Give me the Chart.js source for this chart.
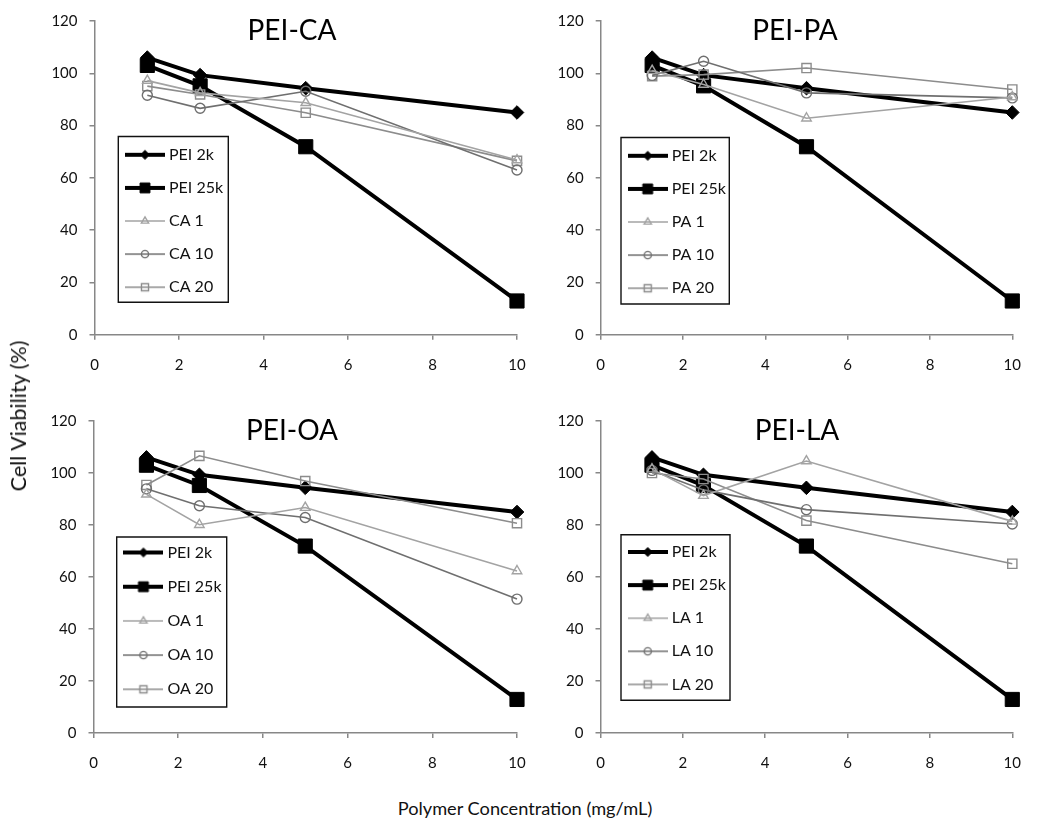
<!DOCTYPE html>
<html><head><meta charset="utf-8">
<script src="https://cdn.jsdelivr.net/npm/chart.js@4/dist/chart.umd.min.js"></script>
<style>
html,body{margin:0;padding:0;background:#fff;}
body{width:1037px;height:832px;position:relative;overflow:hidden;font-family:Lato,sans-serif;}
canvas{position:absolute;}
.lab{position:absolute;font-family:Lato,sans-serif;color:#111;white-space:nowrap;transform-origin:center center;}
</style></head><body>
<canvas id="c0" width="584" height="390" style="left:0px;top:0px"></canvas>
<canvas id="c1" width="527" height="390" style="left:510px;top:0px"></canvas>
<canvas id="c2" width="584" height="390" style="left:0px;top:400px"></canvas>
<canvas id="c3" width="527" height="390" style="left:510px;top:400px"></canvas>
<div class="lab" id="ylab" style="left:18px;top:416px;font-size:21.5px;transform:translate(-50%,-50%) rotate(-90deg);">Cell Viability (%)</div>
<div class="lab" id="xlab" style="left:525px;top:808px;font-size:18.2px;transform:translate(-50%,-50%);">Polymer Concentration (mg/mL)</div>
<script>
// ---------- data ----------
const concentrations = [1.25, 2.5, 5, 10];
const xTickValues = [0, 2, 4, 6, 8, 10];
const yTickValues = [0, 20, 40, 60, 80, 100, 120];
const panelTitles = ['PEI-CA', 'PEI-PA', 'PEI-OA', 'PEI-LA'];
const acidNames = ['CA', 'PA', 'OA', 'LA'];
const pei2k  = [106.0, 99.3, 94.3, 85.0];
const pei25k = [103.0, 95.2, 71.9, 12.9];
const ca1  = [97.2, 92.5, 88.7, 66.8];
const ca10 = [91.6, 86.6, 93.1, 63.0];
const ca20 = [95.1, 91.9, 84.9, 66.5];
const pa1  = [101.0, 95.7, 82.8, 90.9];
const pa10 = [99.2, 104.6, 92.5, 90.6];
const pa20 = [98.9, 99.5, 102.0, 93.8];
const oa1  = [91.8, 80.1, 86.7, 62.3];
const oa10 = [93.9, 87.4, 82.9, 51.5];
const oa20 = [95.4, 106.6, 96.9, 80.7];
const la1  = [101.5, 91.3, 104.6, 81.4];
const la10 = [101.0, 93.5, 85.9, 80.4];
const la20 = [100.0, 97.7, 81.7, 65.1];
const panelSeries = [[ca1, ca10, ca20], [pa1, pa10, pa20], [oa1, oa10, oa20], [la1, la10, la20]];
const graftRatios = ['1', '10', '20'];

// ---------- styles / layout ----------
const FONT = 'Lato';
const styles = [
  {color:'#000000', width:4,   point:'rectRot',  r:6.8, fill:'#000000', bw:1,   lr:4.5},
  {color:'#000000', width:4,   point:'rect',     r:10,  fill:'#000000', bw:1,   lr:7},
  {color:'#a3a3a3', width:1.6, point:'triangle', r:5.5, fill:'rgba(0,0,0,0)', bw:1.4, lr:4.2},
  {color:'#6f6f6f', width:1.6, point:'circle',   r:5,   fill:'rgba(0,0,0,0)', bw:1.4, lr:3.6},
  {color:'#8c8c8c', width:1.6, point:'rect',     r:6.5, fill:'rgba(0,0,0,0)', bw:1.4, lr:5}
];
const panels = [
  {pad:{left:40,right:67,top:19.5,bottom:0}, yW:54.5, xH:55.3, titleX:292, box:{dx:23.8,dy:115.5,w:110,h:165.7,first:18.3,gap:33.1}},
  {pad:{left:40,right:11,top:19.5,bottom:0}, yW:50.7, xH:55.3, titleX:285, box:{dx:20.3,dy:116.5,w:108.3,h:166.5,first:18.3,gap:33.1}},
  {pad:{left:40,right:67,top:19,bottom:0},   yW:53.5, xH:57,   titleX:292, box:{dx:23.2,dy:116,w:110,h:170,first:15.5,gap:34.2}},
  {pad:{left:40,right:11,top:19,bottom:0},   yW:50.5, xH:57,   titleX:287, box:{dx:20.5,dy:113.7,w:109,h:165.6,first:17.3,gap:33.1}}
];

function markerPath(ctx, style, cx, cy, r) {
  ctx.beginPath();
  if (style === 'rectRot') {
    ctx.moveTo(cx - r, cy); ctx.lineTo(cx, cy - r); ctx.lineTo(cx + r, cy); ctx.lineTo(cx, cy + r); ctx.closePath();
  } else if (style === 'rect') {
    const s = r * Math.SQRT1_2; ctx.rect(cx - s, cy - s, 2 * s, 2 * s);
  } else if (style === 'triangle') {
    for (let k = 0; k < 3; k++) {
      const a = k * 2 * Math.PI / 3;
      const px = cx + Math.sin(a) * r, py = cy - Math.cos(a) * r;
      if (k === 0) ctx.moveTo(px, py); else ctx.lineTo(px, py);
    }
    ctx.closePath();
  } else {
    ctx.arc(cx, cy, r, 0, Math.PI * 2);
  }
}
function legendImage(st) {
  const c = document.createElement('canvas');
  c.width = 40; c.height = 20;
  const ctx = c.getContext('2d');
  ctx.strokeStyle = st.color; ctx.lineWidth = st.width;
  ctx.beginPath(); ctx.moveTo(0, 10); ctx.lineTo(40, 10); ctx.stroke();
  markerPath(ctx, st.point, 20, 10, st.lr);
  if (st.fill !== 'rgba(0,0,0,0)') { ctx.fillStyle = st.fill; ctx.fill(); }
  ctx.lineWidth = st.bw; ctx.stroke();
  return c;
}
const legendImgs = styles.map(legendImage);

const legendFrame = {
  id: 'legendFrame',
  afterLayout(chart, args, opts) {
    const lg = chart.legend, ca = chart.chartArea, b = opts.box;
    const pad = b.gap - 16;
    const bl = ca.left + b.dx, bt = ca.top + b.dy;
    lg.options.labels.padding = pad;
    lg.left = bl + 10.7 - pad;
    lg.top = bt + b.first - 8 - pad;
    lg.width = b.w + 40; lg.height = 5 * b.gap + 60;
    lg.right = lg.left + lg.width; lg.bottom = lg.top + lg.height;
    const t = chart.titleBlock;
    if (t) { t.left = opts.titleX - 120; t.right = opts.titleX + 120; t.width = 240; }
  },
  beforeDraw(chart, args, opts) {
    const ca = chart.chartArea, b = opts.box, ctx = chart.ctx;
    ctx.save();
    ctx.fillStyle = '#fff'; ctx.strokeStyle = '#111'; ctx.lineWidth = 1.4;
    ctx.beginPath(); ctx.rect(ca.left + b.dx, ca.top + b.dy, b.w, b.h); ctx.fill(); ctx.stroke();
    ctx.restore();
  }
};

function makeChart(i) {
  const cfg = panels[i];
  const seriesVals = [pei2k, pei25k].concat(panelSeries[i]);
  const labels = ['PEI 2k', 'PEI 25k'].concat(graftRatios.map(g => acidNames[i] + ' ' + g));
  const datasets = seriesVals.map((vals, k) => ({
    label: labels[k],
    data: concentrations.map((x, j) => ({x: x, y: vals[j]})),
    borderColor: styles[k].color,
    borderWidth: styles[k].width,
    pointStyle: styles[k].point,
    pointRadius: styles[k].r,
    pointHoverRadius: styles[k].r,
    pointBackgroundColor: styles[k].fill,
    pointBorderColor: styles[k].color,
    pointBorderWidth: styles[k].bw,
    tension: 0,
    fill: false,
    clip: false,
    order: k < 2 ? 1 : 0
  }));
  return new Chart(document.getElementById('c' + i), {
    type: 'line',
    data: {datasets},
    plugins: [legendFrame],
    options: {
      responsive: false, animation: false, devicePixelRatio: 1,
      layout: {padding: cfg.pad},
      events: [],
      scales: {
        x: {
          type: 'linear', min: 0, max: 10,
          afterBuildTicks: s => { s.ticks = xTickValues.map(v => ({value: v})); },
          afterFit: s => { s.height = cfg.xH; },
          ticks: {font: {family: FONT, size: 15}, color: '#111', padding: 16, maxRotation: 0, autoSkip: false},
          grid: {drawOnChartArea: false, drawTicks: true, tickLength: 5, color: '#878787', lineWidth: 1.5},
          border: {display: true, color: '#878787', width: 1.5}
        },
        y: {
          type: 'linear', min: 0, max: 120,
          afterBuildTicks: s => { s.ticks = yTickValues.map(v => ({value: v})); },
          afterFit: s => { s.width = cfg.yW; },
          ticks: {font: {family: FONT, size: 15}, color: '#111', padding: 12, autoSkip: false},
          grid: {drawOnChartArea: false, drawTicks: true, tickLength: 5, color: '#878787', lineWidth: 1.5},
          border: {display: true, color: '#878787', width: 1.5}
        }
      },
      plugins: {
        legendFrame: {box: cfg.box, titleX: cfg.titleX},
        tooltip: {enabled: false},
        title: {display: true, text: panelTitles[i], color: '#000', font: {family: FONT, size: 28, weight: 'normal', lineHeight: 1}, padding: {top: -4, bottom: -24}},
        legend: {
          display: true, position: 'chartArea', align: 'start',
          labels: {
            font: {family: FONT, size: 16}, color: '#111',
            usePointStyle: true, pointStyleWidth: 32, padding: cfg.box.gap - 16,
            sort: (a, b) => a.datasetIndex - b.datasetIndex,
            generateLabels: chart => {
              const items = Chart.defaults.plugins.legend.labels.generateLabels(chart);
              items.forEach(it => { it.pointStyle = legendImgs[it.datasetIndex]; it.fontColor = '#111'; });
              return items;
            }
          }
        }
      }
    }
  });
}
for (let i = 0; i < 4; i++) makeChart(i);
</script>
</body></html>
